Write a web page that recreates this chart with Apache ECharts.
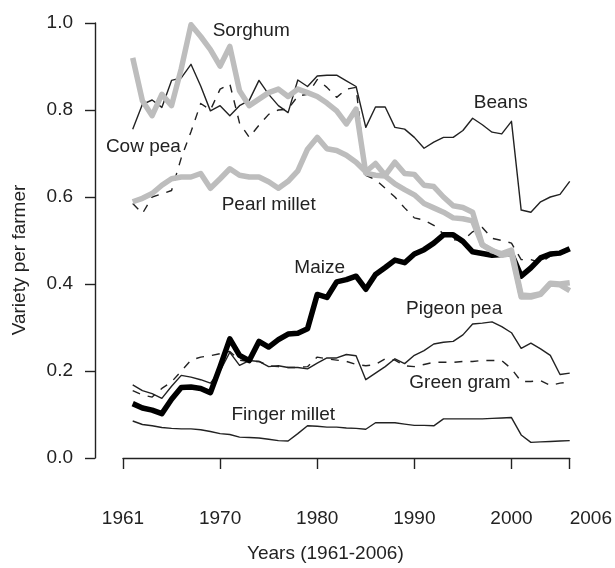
<!DOCTYPE html>
<html>
<head>
<meta charset="utf-8">
<style>
  html, body { margin: 0; padding: 0; background: #fff; }
  #chart { width: 615px; height: 568px; }
</style>
<script src="https://cdn.jsdelivr.net/npm/echarts@6/dist/echarts.min.js"></script>
</head>
<body>
<div id="chart"></div>
<script>
// years on the x axis
const years = [1961, 1962, 1963, 1964, 1965, 1966, 1967, 1968, 1969, 1970,
  1971, 1972, 1973, 1974, 1975, 1976, 1977, 1978, 1979, 1980,
  1981, 1982, 1983, 1984, 1985, 1986, 1987, 1988, 1989, 1990,
  1991, 1992, 1993, 1994, 1995, 1996, 1997, 1998, 1999, 2000,
  2001, 2002, 2003, 2004, 2005, 2006];

// variety per farmer
const sorghum = [0.920, 0.821, 0.787, 0.836, 0.810, 0.895, 0.996, 0.969, 0.939, 0.901,
  0.946, 0.844, 0.810, 0.825, 0.840, 0.848, 0.831, 0.848, 0.840, 0.831,
  0.816, 0.798, 0.768, 0.802, 0.655, 0.650, 0.648, 0.630, 0.617, 0.605,
  0.585, 0.575, 0.565, 0.552, 0.550, 0.545, 0.490, 0.478, 0.466, 0.470,
  0.370, 0.370, 0.376, 0.400, 0.398, 0.385];
const pearlMillet = [0.589, 0.597, 0.608, 0.627, 0.642, 0.646, 0.646, 0.654, 0.620, 0.642,
  0.665, 0.650, 0.646, 0.646, 0.635, 0.620, 0.636, 0.660, 0.710, 0.737,
  0.711, 0.707, 0.696, 0.680, 0.658, 0.677, 0.650, 0.680, 0.654, 0.652,
  0.627, 0.624, 0.600, 0.580, 0.576, 0.565, 0.490, 0.476, 0.470, 0.478,
  0.375, 0.373, 0.378, 0.402, 0.400, 0.403];
const beans = [0.756, 0.813, 0.823, 0.806, 0.868, 0.874, 0.905, 0.855, 0.798, 0.810,
  0.787, 0.810, 0.822, 0.868, 0.836, 0.810, 0.794, 0.869, 0.854, 0.878,
  0.880, 0.880, 0.867, 0.854, 0.760, 0.807, 0.807, 0.760, 0.756, 0.737,
  0.712, 0.726, 0.737, 0.737, 0.753, 0.781, 0.766, 0.749, 0.745, 0.774,
  0.570, 0.565, 0.589, 0.600, 0.606, 0.636];
const cowPea = [0.585, 0.562, 0.600, 0.607, 0.615, 0.690, 0.750, 0.815, 0.800, 0.848,
  0.860, 0.770, 0.737, 0.765, 0.790, 0.800, 0.802, 0.832, 0.836, 0.870,
  0.852, 0.829, 0.848, 0.852, 0.650, 0.640, 0.620, 0.600, 0.575, 0.552,
  0.547, 0.535, 0.515, 0.502, 0.500, 0.520, 0.530, 0.505, 0.500, 0.494,
  0.456, 0.456, 0.449, 0.464, 0.469, 0.477];
const maize = [0.125, 0.115, 0.110, 0.102, 0.135, 0.162, 0.163, 0.160, 0.150, 0.210,
  0.274, 0.236, 0.224, 0.268, 0.255, 0.272, 0.285, 0.287, 0.297, 0.376,
  0.369, 0.405, 0.410, 0.418, 0.388, 0.422, 0.438, 0.455, 0.449, 0.469,
  0.479, 0.494, 0.513, 0.513, 0.498, 0.474, 0.470, 0.466, 0.468, 0.470,
  0.418, 0.437, 0.460, 0.469, 0.471, 0.481];
const pigeonPea = [0.168, 0.155, 0.148, 0.137, 0.165, 0.190, 0.186, 0.180, 0.172, 0.200,
  0.243, 0.213, 0.224, 0.222, 0.210, 0.212, 0.208, 0.208, 0.205, 0.218,
  0.230, 0.230, 0.238, 0.235, 0.180, 0.195, 0.210, 0.228, 0.217, 0.236,
  0.247, 0.262, 0.266, 0.268, 0.283, 0.308, 0.310, 0.313, 0.302, 0.288,
  0.252, 0.264, 0.251, 0.236, 0.192, 0.195];
const greenGram = [0.155, 0.145, 0.140, 0.160, 0.175, 0.200, 0.225, 0.232, 0.235, 0.240,
  0.245, 0.225, 0.222, 0.222, 0.212, 0.210, 0.208, 0.208, 0.210, 0.232,
  0.228, 0.225, 0.222, 0.215, 0.212, 0.215, 0.228, 0.225, 0.212, 0.210,
  0.215, 0.220, 0.220, 0.220, 0.222, 0.222, 0.224, 0.224, 0.224, 0.205,
  0.176, 0.176, 0.178, 0.167, 0.172, 0.175];
const fingerMillet = [0.085, 0.077, 0.074, 0.070, 0.068, 0.067, 0.067, 0.065, 0.061, 0.056,
  0.054, 0.048, 0.047, 0.046, 0.043, 0.040, 0.039, 0.056, 0.074, 0.073,
  0.071, 0.071, 0.069, 0.068, 0.066, 0.081, 0.081, 0.081, 0.078, 0.075,
  0.075, 0.074, 0.090, 0.090, 0.090, 0.090, 0.090, 0.091, 0.092, 0.093,
  0.053, 0.036, 0.037, 0.038, 0.039, 0.040];

// where each crop name sits, in data units [year, value]
const labelAt = {
  'Sorghum': [1973.2, 0.982],
  'Beans': [1998.9, 0.816],
  'Cow pea': [1962.1, 0.715],
  'Pearl millet': [1975.0, 0.583],
  'Maize': [1980.25, 0.438],
  'Pigeon pea': [1994.1, 0.344],
  'Green gram': [1994.7, 0.173],
  'Finger millet': [1976.5, 0.100]
};

const font = "'Liberation Sans', Arial, sans-serif";
const ink = '#222';
const grey = '#bdbdbd';
const fs = 19;

function pairs(vals) {
  return years.map((y, i) => [y, vals[i]]);
}

function line(name, vals, color, width, dashed) {
  return {
    name: name,
    type: 'line',
    data: pairs(vals),
    showSymbol: false,
    symbol: 'none',
    lineStyle: { color: color, width: width, type: dashed ? [8, 8] : 'solid', join: 'round' },
    markPoint: {
      symbol: 'circle',
      symbolSize: 1,
      itemStyle: { color: 'rgba(0,0,0,0)' },
      label: {
        show: true,
        position: 'inside',
        formatter: name,
        color: ink,
        fontSize: fs,
        fontFamily: font
      },
      data: [{ coord: labelAt[name] }]
    }
  };
}

const chart = echarts.init(document.getElementById('chart'));
const option = {
  animation: false,
  backgroundColor: '#fff',
  grid: { left: 123, right: 41, top: 23, bottom: 106 },
  xAxis: {
    type: 'value',
    min: 1960,
    max: 2006,
    interval: 10,
    offset: 30,
    name: 'Years (1961-2006)',
    nameLocation: 'middle',
    nameGap: 56,
    nameTextStyle: { fontSize: fs, fontFamily: font, color: ink, padding: [0, 42, 0, 0] },
    axisLine: { show: true, lineStyle: { color: ink, width: 1.4 } },
    axisTick: { show: true, length: 11, lineStyle: { color: ink, width: 1.4 } },
    axisLabel: {
      fontSize: fs, fontFamily: font, color: ink, margin: 21,
      alignMaxLabel: 'left',
      formatter: v => (v === 1960 ? '1961' : String(v))
    },
    splitLine: { show: false }
  },
  yAxis: {
    type: 'value',
    min: 0,
    max: 1,
    interval: 0.2,
    offset: 28,
    name: 'Variety per farmer',
    nameLocation: 'middle',
    nameGap: 66,
    nameTextStyle: { fontSize: fs, fontFamily: font, color: ink, padding: [0, 39, 0, 0] },
    axisLine: { show: true, lineStyle: { color: ink, width: 1.4 } },
    axisTick: { show: true, length: 10, lineStyle: { color: ink, width: 1.4 } },
    axisLabel: {
      fontSize: fs, fontFamily: font, color: ink, margin: 22,
      formatter: v => v.toFixed(1)
    },
    splitLine: { show: false }
  },
  series: [
    line('Beans', beans, ink, 1.4, false),
    line('Cow pea', cowPea, ink, 1.4, true),
    line('Pigeon pea', pigeonPea, ink, 1.4, false),
    line('Green gram', greenGram, ink, 1.4, true),
    line('Finger millet', fingerMillet, ink, 1.4, false),
    line('Maize', maize, '#000', 5.5, false),
    line('Sorghum', sorghum, grey, 5.5, false),
    line('Pearl millet', pearlMillet, grey, 5.5, false)
  ]
};
chart.setOption(option);
</script>
</body>
</html>
